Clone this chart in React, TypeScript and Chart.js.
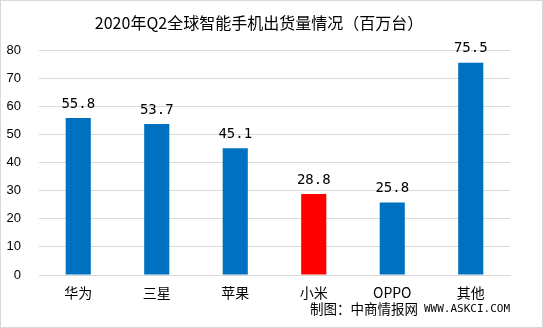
import React, { useEffect, useRef } from "react";
import { Chart, registerables } from "chart.js";

Chart.register(...registerables);

const TITLE = "2020年Q2全球智能手机出货量情况（百万台）";
const SOURCE_CN = "制图：中商情报网";
const SOURCE_URL = "WWW.ASKCI.COM";
const categories = ["华为", "三星", "苹果", "小米", "OPPO", "其他"];
const shipments = [55.8, 53.7, 45.1, 28.8, 25.8, 75.5];
const barColors = ["#0070C0", "#0070C0", "#0070C0", "#FF0000", "#0070C0", "#0070C0"];
const yTicks = [0, 10, 20, 30, 40, 50, 60, 70, 80];

const CJK = '"Noto Sans CJK SC", "Liberation Sans", sans-serif';
const MONO = '"DejaVu Sans Mono", monospace';

const decor = {
  id: "decor",
  afterDraw(chart: any) {
    const { ctx, width, height } = chart;
    ctx.save();
    ctx.strokeStyle = "#d9d9d9";
    ctx.lineWidth = 1;
    ctx.strokeRect(0.5, 0.5, width - 1, height - 1);
    ctx.fillStyle = "#000";
    ctx.font = "16px " + CJK;
    ctx.textAlign = "center";
    ctx.textBaseline = "middle";
    ctx.fillText(TITLE, 259, 23);
    ctx.font = "13.5px " + CJK;
    ctx.textAlign = "right";
    ctx.fillText(SOURCE_CN, 418, 309);
    ctx.font = "11px " + MONO;
    ctx.textAlign = "left";
    ctx.fillText(SOURCE_URL, 424, 309);
    // data labels
    const meta = chart.getDatasetMeta(0);
    ctx.font = "14px " + MONO;
    ctx.textAlign = "center";
    ctx.textBaseline = "middle";
    meta.data.forEach((bar: any, i: number) => {
      ctx.fillText(shipments[i].toFixed(1), bar.x, bar.y - 14);
    });
    ctx.restore();
  },
};

export default function App() {
  const ref = useRef<HTMLCanvasElement>(null);
  useEffect(() => {
    const chart = new Chart(ref.current!, {
      type: "bar",
      data: {
        labels: categories,
        datasets: [
          {
            data: shipments,
            backgroundColor: barColors,
            barPercentage: 0.32,
            categoryPercentage: 1,
          },
        ],
      },
      options: {
        animation: false,
        responsive: false,
        devicePixelRatio: 1,
        layout: { padding: { top: 50, right: 33, left: 0, bottom: 0 } },
        plugins: { legend: { display: false }, tooltip: { enabled: false } },
        scales: {
          x: {
            grid: { display: false },
            border: { display: true, color: "#d9d9d9" },
            ticks: { color: "#000", font: { family: CJK, size: 14 }, padding: 1 },
            afterFit: (s: any) => {
              s.height = 53;
            },
          },
          y: {
            min: 0,
            max: 80,
            afterBuildTicks: (s: any) => {
              s.ticks = yTicks.map((v) => ({ value: v }));
            },
            grid: { color: "#d9d9d9", drawTicks: false },
            border: { display: false },
            ticks: {
              color: "#000",
              font: { family: '"Liberation Sans", sans-serif', size: 13 },
              padding: 18,
            },
            afterFit: (s: any) => {
              s.width = 39;
            },
          },
        },
      },
      plugins: [decor],
    });
    return () => chart.destroy();
  }, []);
  return (
    <div style={{ position: "fixed", left: 0, top: 0, width: 543, height: 328, background: "#fff" }}>
      <canvas ref={ref} width={543} height={328} style={{ display: "block" }} />
    </div>
  );
}
